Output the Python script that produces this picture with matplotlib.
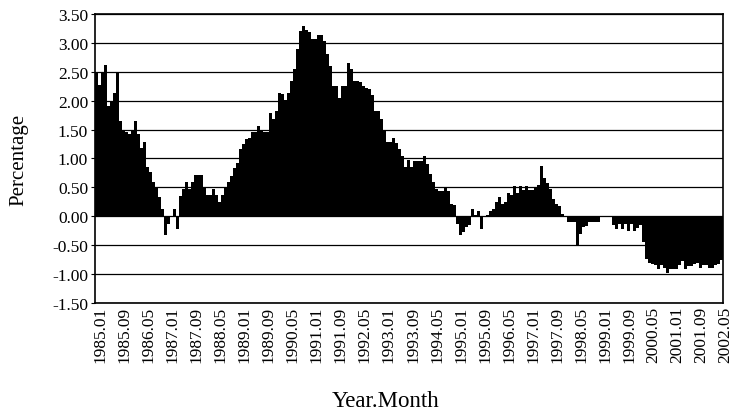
import matplotlib
matplotlib.use("Agg")
import matplotlib.pyplot as plt
import matplotlib.transforms as mtransforms
import numpy as np

# Monthly percentages, 1985.01 - 2002.05 (209 months)
values = [
    # 1985.01 - 1987.05 (i0 - i28)
    2.50, 2.28, 2.50, 2.62, 1.90, 2.00, 2.13, 2.50, 1.65, 1.50,
    1.45, 1.42, 1.48, 1.65, 1.42, 1.19, 1.28, 0.85, 0.76, 0.59,
    0.50, 0.33, 0.13, -0.33, -0.13, 0.00, 0.13, -0.22, 0.35,
    # i29 - i58
    0.47, 0.59, 0.47, 0.59, 0.71, 0.71, 0.71, 0.50, 0.37, 0.37,
    0.48, 0.36, 0.25, 0.37, 0.50, 0.59, 0.70, 0.84, 0.93, 1.16,
    1.25, 1.33, 1.36, 1.46, 1.46, 1.56, 1.48, 1.45, 1.45, 1.79,
    # i59 - i88
    1.68, 1.82, 2.13, 2.11, 2.02, 2.14, 2.34, 2.54, 2.89, 3.20,
    3.30, 3.22, 3.18, 3.07, 3.06, 3.14, 3.14, 3.03, 2.80, 2.60,
    2.25, 2.25, 2.05, 2.26, 2.26, 2.66, 2.54, 2.34, 2.34, 2.32,
    # i89 - i118
    2.25, 2.22, 2.20, 2.10, 1.82, 1.82, 1.68, 1.50, 1.28, 1.28,
    1.36, 1.26, 1.16, 1.05, 0.86, 0.97, 0.86, 0.95, 0.95, 0.95,
    1.05, 0.90, 0.74, 0.60, 0.48, 0.44, 0.44, 0.51, 0.44, 0.22,
    # i119 - i148
    0.20, -0.13, -0.32, -0.28, -0.19, -0.15, 0.13, 0.02, 0.10, -0.22,
    0.00, 0.02, 0.10, 0.13, 0.24, 0.33, 0.21, 0.24, 0.41, 0.36,
    0.53, 0.41, 0.53, 0.45, 0.53, 0.45, 0.45, 0.50, 0.55, 0.87,
    # i149 - i181
    0.66, 0.58, 0.47, 0.30, 0.22, 0.18, 0.04, 0.00, -0.10, -0.10,
    -0.10, -0.50, -0.30, -0.19, -0.16, -0.10, -0.10, -0.10, -0.10, 0.00,
    0.00, 0.00, 0.00, -0.15, -0.22, -0.13, -0.22, -0.13, -0.25, -0.13,
    -0.25, -0.20, -0.15,
    # i182 - i208
    -0.45, -0.74, -0.80, -0.82, -0.85, -0.92, -0.85, -0.90, -0.98, -0.92,
    -0.92, -0.92, -0.85, -0.78, -0.92, -0.86, -0.86, -0.82, -0.80, -0.90,
    -0.85, -0.85, -0.90, -0.90, -0.85, -0.82, -0.75,
]

start_year, start_month = 1985, 1
months = []
for k in range(len(values)):
    m = start_month - 1 + k
    months.append(f"{start_year + m // 12}.{m % 12 + 1:02d}")

tick_step = 8
y_ticks = [-1.5, -1.0, -0.5, 0.0, 0.5, 1.0, 1.5, 2.0, 2.5, 3.0, 3.5]

plt.rcParams['font.family'] = ['Liberation Serif', 'DejaVu Serif']

fig = plt.figure(figsize=(7.34, 4.14), dpi=100)
ax = fig.add_axes([0.1294, 0.2657, 0.8556, 0.6981])

x = np.arange(len(values))
for yv in y_ticks:
    ax.axhline(yv, color='black', lw=0.9, zorder=1)
ax.bar(x, values, width=1.0, color='black', edgecolor='none', zorder=2)

ax.set_xlim(-0.5, len(values) - 0.5)
ax.set_ylim(-1.5, 3.5)
ax.set_yticks(y_ticks)
ax.set_yticklabels([f"{v:.2f}" for v in y_ticks], fontsize=12.5)
tick_idx = list(range(0, len(values), tick_step))
ax.set_xticks(tick_idx)
ax.set_xticklabels([months[i] for i in tick_idx], rotation=90, fontsize=12.5)
ax.tick_params(axis='x', length=0, pad=2)
ax.tick_params(axis='y', length=3, width=0.8, pad=2)

offset = mtransforms.ScaledTranslation(4 / 100, 0, fig.dpi_scale_trans)
for lab in ax.get_xticklabels():
    lab.set_transform(lab.get_transform() + offset)

for sp in ax.spines.values():
    sp.set_color('black')
    sp.set_linewidth(1.2)

ax.set_ylabel("Percentage", fontsize=15)
ax.yaxis.set_label_coords(-0.106, 0.5)
ax.set_xlabel("Year.Month", fontsize=16.5)
ax.xaxis.set_label_coords(0.462, -0.30)

fig.savefig("out.png", dpi=100)
